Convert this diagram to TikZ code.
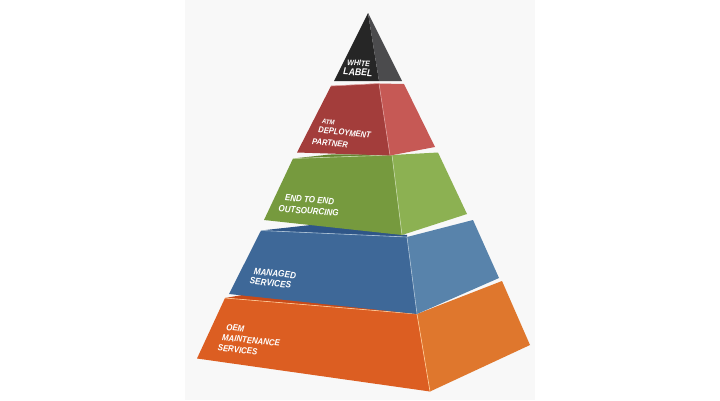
\documentclass[tikz,border=0pt]{standalone}
\usepackage{fontspec}
\setmainfont{Liberation Sans}
\newfontfamily\lblfont[FakeStretch=0.88]{Liberation Sans}
\definecolor{panel}{HTML}{F8F8F8}
\definecolor{blkF}{HTML}{262626}\definecolor{blkR}{HTML}{4B4B4D}
\definecolor{redF}{HTML}{A33D3B}\definecolor{redR}{HTML}{C65955}
\definecolor{grnF}{HTML}{769A3E}\definecolor{grnR}{HTML}{8CB152}\definecolor{grnT}{HTML}{648530}
\definecolor{bluF}{HTML}{3E6898}\definecolor{bluR}{HTML}{5883AB}\definecolor{bluT}{HTML}{2F5688}
\definecolor{orgF}{HTML}{DC5E22}\definecolor{orgR}{HTML}{DF772D}\definecolor{orgT}{HTML}{C94A18}
\begin{document}
\begin{tikzpicture}[x=1pt,y=-1pt,
  lbl/.style={text=white, anchor=north west, inner sep=0pt, align=left, rotate=-6},
  hl/.style={draw=#1, line width=0.6pt}]
\useasboundingbox (0,0) rectangle (720,400);
\fill[white] (0,0) rectangle (720,400);
\fill[panel] (185,0) rectangle (535,400);
% orange tier
\fill[orgT] (225,298) -- (300,285) -- (417,311) -- (417,314) -- cycle;
\fill[orgF] (225,298) -- (417,314) -- (430,391.5) -- (197,358.5) -- cycle;
\fill[orgR] (417,314) -- (502,281) -- (530,345) -- (430,391.5) -- cycle;
\draw[hl=orange!40!white] (225,298) -- (417,314) -- (430,391.5);
% blue tier
\fill[bluT] (261,230.5) -- (320,224) -- (407,235) -- (407,237) -- cycle;
\fill[bluF] (261,230.5) -- (407,237) -- (417,314) -- (229,294) -- cycle;
\fill[bluR] (407,237) -- (473,220) -- (499,278) -- (417,314) -- cycle;
\draw[hl=bluR!50!white] (261,230.5) -- (407,237) -- (417,314);
% green tier
\fill[grnT] (293,158.5) -- (330,154.5) -- (392,154) -- (392,155) -- cycle;
\fill[grnF] (293,158.5) -- (392,155) -- (402,235) -- (264,220) -- cycle;
\fill[grnR] (392,155) -- (438,152.5) -- (467,214) -- (402,235) -- cycle;
\draw[hl=grnR!50!white] (293,158.5) -- (392,155) -- (402,235);
% red tier
\fill[redF] (331,86) -- (379,83.5) -- (390,155.5) -- (297,152.5) -- cycle;
\fill[redR] (379,83.5) -- (404,84) -- (435,147) -- (390,155.5) -- cycle;
\draw[hl=redR!60!white] (331,86) -- (379,83.5) -- (390,155.5);
% black tier
\fill[blkF] (368,13) -- (379,81) -- (334,81) -- cycle;
\fill[blkR] (368,13) -- (402,81) -- (379,81) -- cycle;
% labels
\node[lbl, rotate=3, font=\lblfont\bfseries\itshape\fontsize{9.9}{9.8}\selectfont] (wl) at (343.8,59.4)
  {\hspace*{3.5pt}{\fontsize{8}{8}\selectfont WHITE}\\LABEL};
\node[lbl, font=\lblfont\bfseries\itshape\fontsize{8.6}{9.2}\selectfont] (rd) at (314.4,118.3)
  {\hspace*{7.8pt}{\fontsize{6.8}{7}\selectfont ATM}\\\hspace*{5.1pt}DEPLOYMENT\\[2.6pt]PARTNER};
\node[lbl, rotate=1.5, font=\lblfont\bfseries\itshape\fontsize{9.1}{11.5}\selectfont] (gr) at (279.7,193.7)
  {\hspace*{5.5pt}END TO END\\OUTSOURCING};
\node[lbl, font=\lblfont\bfseries\itshape\fontsize{9.3}{10}\selectfont] (bl) at (251.1,267.3)
  {\hspace*{3pt}MANAGED\\SERVICES};
\node[lbl, font=\lblfont\bfseries\itshape\fontsize{8.9}{10.8}\selectfont] (or) at (220.3,323)
  {\hspace*{6.4pt}OEM\\\hspace*{3.3pt}MAINTENANCE\\SERVICES};
\end{tikzpicture}
\end{document}
